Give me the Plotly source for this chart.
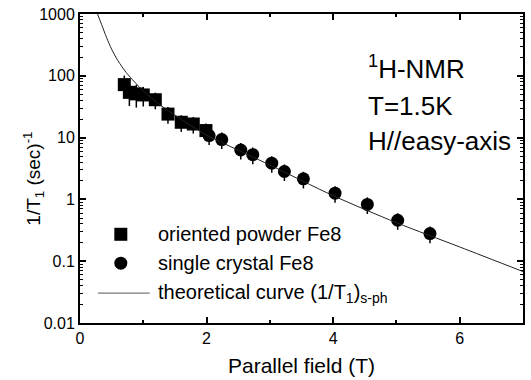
import plotly.graph_objects as go

# Oriented powder Fe8 (squares)
powder_field = [0.70, 0.78, 0.89, 1.00, 1.19, 1.39, 1.60, 1.79, 1.99]
powder_rate = [72, 54, 51, 49, 41, 24, 17.7, 16.6, 13.0]
powder_err_rel = [0.4, 0.4, 0.4, 0.35, 0.3, 0.3, 0.3, 0.3, 0.3]

# Single crystal Fe8 (circles)
crystal_field = [2.04, 2.24, 2.54, 2.73, 3.03, 3.23, 3.53, 4.03, 4.54, 5.02, 5.53]
crystal_rate = [10.8, 9.3, 6.3, 5.3, 3.85, 2.83, 2.15, 1.26, 0.83, 0.46, 0.28]
crystal_err_rel = [0.3, 0.3, 0.3, 0.3, 0.3, 0.3, 0.3, 0.3, 0.3, 0.3, 0.3]

# Theoretical curve (1/T1)s-ph
theory_field = [0.277, 0.34, 0.42, 0.50, 0.60, 0.73, 0.86, 0.99, 1.28, 1.50, 2.00, 2.30, 3.00, 4.00, 5.00, 6.00, 7.00]
theory_rate = [1000, 682, 415, 269, 175, 113, 80, 58, 33, 23, 11, 7.8, 3.6, 1.15, 0.42, 0.17, 0.068]

y_tickvals = [0.01, 0.1, 1, 10, 100, 1000]
y_ticktext = ["0.01", "0.1", "1", "10", "100", "1000"]
x_tickvals = [0, 2, 4, 6]

legend_labels = ["oriented powder Fe8", "single crystal Fe8",
                 "theoretical curve (1/T<sub>1</sub>)<sub>s-ph</sub>"]

FONT = "Liberation Sans, Arial, Helvetica, sans-serif"

fig = go.Figure()
fig.add_trace(go.Scatter(
    x=powder_field, y=powder_rate, mode="markers", name=legend_labels[0],
    marker=dict(symbol="square", size=13, color="black"),
    error_y=dict(type="data", array=[v * e for v, e in zip(powder_rate, powder_err_rel)],
                 color="black", thickness=1.5, width=0),
))
fig.add_trace(go.Scatter(
    x=crystal_field, y=crystal_rate, mode="markers", name=legend_labels[1],
    marker=dict(symbol="circle", size=13, color="black"),
    error_y=dict(type="data", array=[v * e for v, e in zip(crystal_rate, crystal_err_rel)],
                 color="black", thickness=1.5, width=0),
))
fig.add_trace(go.Scatter(
    x=theory_field, y=theory_rate, mode="lines", name=legend_labels[2],
    line=dict(color="#222222", width=1, shape="spline", smoothing=0.8),
))

axis_common = dict(
    showline=True, linecolor="black", linewidth=2, mirror="ticks",
    ticks="inside", tickcolor="black", tickwidth=1.5, showgrid=False, zeroline=False,
    tickfont=dict(family=FONT, size=16, color="black"),
)

fig.update_xaxes(
    range=[0, 7], tickvals=x_tickvals, ticklen=6,
    minor=dict(ticks="inside", ticklen=3, dtick=1, tick0=0, tickcolor="black", tickwidth=1.5),
    title=dict(text="Parallel field (T)", font=dict(family=FONT, size=21, color="black"), standoff=12),
    **axis_common,
)
fig.update_yaxes(
    type="log", range=[-2, 3], tickvals=y_tickvals, ticktext=y_ticktext, ticklen=6,
    minor=dict(ticks="inside", ticklen=3, dtick="D1", tickcolor="black", tickwidth=1),
    **axis_common,
)

# plot-area pixel helpers for placing the text labels and legend
PX0, PW, PY0, PH = 80, 445, 13, 310
def px(xp):
    return (xp - PX0) / PW
def py(yp):
    return 1 - (yp - PY0) / PH

# y-axis title
fig.add_annotation(
    x=px(33), y=py(178), xref="paper", yref="paper", textangle=-90,
    xanchor="center", yanchor="middle", showarrow=False,
    text="1/T<sub>1</sub> (sec)<sup>-1</sup>", font=dict(family=FONT, size=19, color="black"),
)

ann_font = dict(family=FONT, size=26, color="black")
for txt, ypix in [("<sup>1</sup>H-NMR", 67), ("T=1.5K", 105), ("H//easy-axis", 140)]:
    fig.add_annotation(
        x=px(367), y=py(ypix), xref="paper", yref="paper",
        xanchor="left", yanchor="middle", text=txt, showarrow=False, font=ann_font,
    )

# legend (drawn manually to match the original layout)
leg_font = dict(family=FONT, size=20, color="black")
leg_rows = [234, 263, 293]
for lab, ypix in zip(legend_labels, leg_rows):
    fig.add_annotation(
        x=px(156), y=py(ypix), xref="paper", yref="paper",
        xanchor="left", yanchor="middle", text=lab, showarrow=False, font=leg_font,
    )
fig.add_shape(type="rect", xref="paper", yref="paper",
              xsizemode="pixel", ysizemode="pixel", xanchor=px(121), yanchor=py(leg_rows[0]),
              x0=-6.5, x1=6.5, y0=-6.5, y1=6.5, fillcolor="black", line=dict(width=0))
fig.add_shape(type="circle", xref="paper", yref="paper",
              xsizemode="pixel", ysizemode="pixel", xanchor=px(121), yanchor=py(leg_rows[1]),
              x0=-6.5, x1=6.5, y0=-6.5, y1=6.5, fillcolor="black", line=dict(width=0))
fig.add_shape(type="line", xref="paper", yref="paper",
              x0=px(98), x1=px(150), y0=py(leg_rows[2]), y1=py(leg_rows[2]),
              line=dict(color="#555555", width=1))

fig.update_layout(
    width=531, height=380,
    margin=dict(l=80, r=6, t=13, b=57),
    paper_bgcolor="white", plot_bgcolor="white",
    showlegend=False,
)

fig.write_html("out.html")
